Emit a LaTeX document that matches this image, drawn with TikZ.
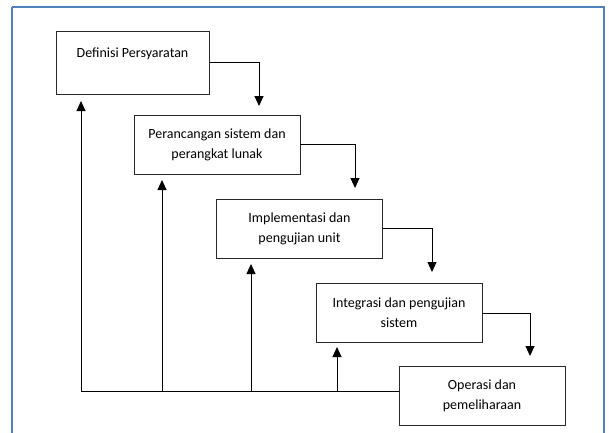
\documentclass[tikz,border=0pt]{standalone}
\usepackage{fontspec}
\setmainfont{Carlito}
\usetikzlibrary{arrows.meta}

\definecolor{framecol}{RGB}{79,129,189}
\definecolor{boxcol}{RGB}{40,40,40}

\tikzset{
  phase/.style={draw=boxcol, line width=0.8pt, align=center, minimum width=166pt,
    minimum height=59pt, inner sep=2pt, font=\fontsize{14}{20}\selectfont},
  flow/.style={line width=0.9pt, -{Triangle[width=9pt,length=10pt]}},
  back/.style={line width=0.9pt}
}

\begin{document}
\begin{tikzpicture}[x=1pt,y=-1pt]
        \useasboundingbox (0,0) rectangle (609,432);
        \draw[framecol, line width=2pt] (11.5,6.5) -- (604,6.5) -- (604,440);
        \draw[framecol, line width=2pt] (11.5,6.5) -- (11.5,440);

        \node[phase, minimum width=153pt, minimum height=63pt] (def) at (132.5,62.5) {Definisi Persyaratan\\ \mbox{}};
        \node[phase] (ran) at (217,144.5) {Perancangan sistem dan\\ perangkat lunak};
        \node[phase] (imp) at (299.5,228.5) {Implementasi dan\\ pengujian unit};
        \node[phase] (int) at (399,313) {Integrasi dan pengujian\\ sistem};
        \node[phase] (ops) at (482,395.5) {Operasi dan\\ pemeliharaan};

        % ujung panah turun
        \coordinate (d1) at (259,106);
        \coordinate (d2) at (355,188);
        \coordinate (d3) at (432,272);
        \coordinate (d4) at (530,356);

        \draw[flow] (def.east) -| (d1);
        \draw[flow] (ran.east) -| (d2);
        \draw[flow] (imp.east) -| (d3);
        \draw[flow] (int.east) -| (d4);

        % garis umpan balik
        \coordinate (b1) at (81,391);
        \coordinate (b2) at (162,391);
        \coordinate (b3) at (251,391);
        \coordinate (b4) at (337,391);

        \draw[back] (b1) -- (b1 -| ops.west);
        \draw[flow] (b1) -- (81,101);
        \draw[flow] (b2) -- (162,180);
        \draw[flow] (b3) -- (251,264);
        \draw[flow] (b4) -- (337,347);
    \end{tikzpicture}
\end{document}
